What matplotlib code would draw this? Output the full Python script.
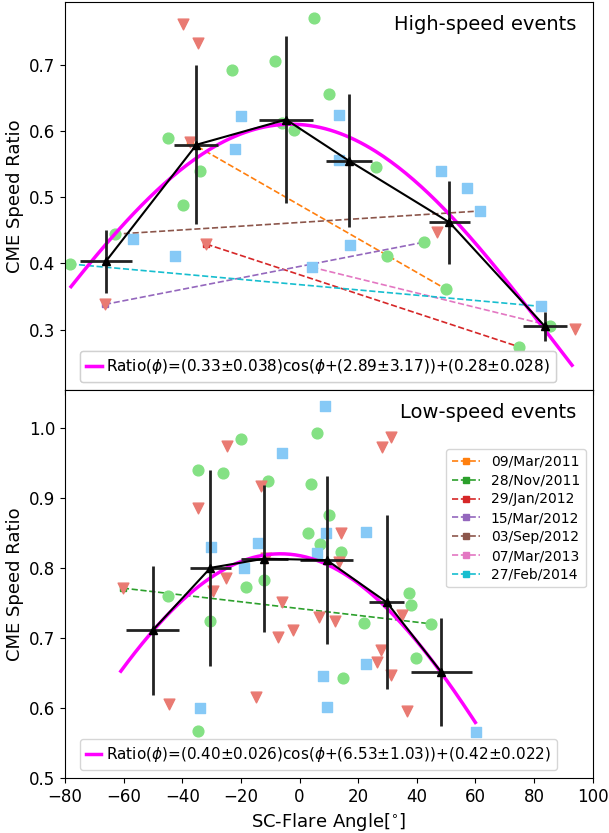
import numpy as np
import matplotlib.pyplot as plt

# ---- high-speed events (top panel) ----
hi_g_x = [-78.3, -63, -45, -39.9, -34.1, -22.9, -8.3, 4.9, -6, -1.9, 10, 26, 29.7, 42.6, 50, 85.4, 74.9]
hi_g_y = [0.399, 0.444, 0.589, 0.488, 0.539, 0.692, 0.706, 0.770, 0.612, 0.601, 0.656, 0.545, 0.411, 0.432, 0.361, 0.306, 0.274]
hi_b_x = [-56.9, -42.6, -22, -19.9, 4.3, 17.1, 13.4, 13.4, 48.4, 57.2, 61.6, 82.4]
hi_b_y = [0.436, 0.411, 0.573, 0.623, 0.394, 0.427, 0.624, 0.556, 0.539, 0.514, 0.479, 0.335]
hi_r_x = [-66.4, -39.9, -34.8, -37.5, -31.8, 47, 93.9]
hi_r_y = [0.338, 0.762, 0.733, 0.583, 0.429, 0.447, 0.301]

hi_bin_x = [-66.1, -35.2, -4.6, 16.8, 51.1, 83.7]
hi_bin_y = [0.403, 0.579, 0.617, 0.555, 0.462, 0.305]
hi_bin_xerr = [8.8, 7.5, 9.2, 7.8, 7.0, 7.6]
hi_bin_yerr = [0.048, 0.12, 0.126, 0.10, 0.063, 0.022]
hi_fit = (0.33, 2.89, 0.28)
hi_fit_range = (-78, 93)
hi_label = r'Ratio($\phi$)=(0.33$\pm$0.038)cos($\phi$+(2.89$\pm$3.17))+(0.28$\pm$0.028)'

# ---- low-speed events (bottom panel) ----
lo_g_x = [-45, -34.8, -26.3, -19.9, -10.7, -18.2, -12, -30.4, -34.8, 5.9, 3.9, 10, 2.9, 6.9, 14.1,
          14.8, 21.9, 37.2, 38.2, 39.9, 45]
lo_g_y = [0.760, 0.940, 0.936, 0.984, 0.924, 0.773, 0.783, 0.724, 0.567, 0.993, 0.920, 0.876, 0.850, 0.834, 0.823,
          0.643, 0.721, 0.764, 0.747, 0.671, 0.720]
lo_b_x = [-34.1, -30.1, -18.9, -14.1, -5.9, 8.7, 9, 6, 22.6, 8, 9.3, 22.6, 60.3]
lo_b_y = [0.600, 0.829, 0.800, 0.836, 0.964, 1.031, 0.849, 0.821, 0.851, 0.645, 0.601, 0.663, 0.566]
lo_r_x = [-60.3, -44.7, -34.5, -24.6, -25, -13.1, -29.4, -11.4, -14.8, -5.9, -7.3, -2.2, 6.6, 12, 14.1,
          13.4, 28, 31.1, 27.7, 26.3, 31.1, 34.8, 36.5]
lo_r_y = [0.771, 0.606, 0.886, 0.974, 0.786, 0.917, 0.767, 0.814, 0.616, 0.751, 0.701, 0.711, 0.730, 0.724, 0.849,
          0.809, 0.973, 0.987, 0.683, 0.666, 0.647, 0.733, 0.596]

lo_bin_x = [-50.1, -30.4, -12.1, 9.3, 29.7, 48.4]
lo_bin_y = [0.711, 0.800, 0.813, 0.811, 0.751, 0.651]
lo_bin_xerr = [9.0, 7.0, 8.0, 9.0, 6.0, 10.3]
lo_bin_yerr = [0.092, 0.14, 0.105, 0.12, 0.124, 0.077]
lo_fit = (0.40, 6.53, 0.42)
lo_fit_range = (-61, 60)
lo_label = r'Ratio($\phi$)=(0.40$\pm$0.026)cos($\phi$+(6.53$\pm$1.03))+(0.42$\pm$0.022)'

# ---- individual events, joined by dashed lines ----
ev_names = ['09/Mar/2011', '28/Nov/2011', '29/Jan/2012', '15/Mar/2012',
            '03/Sep/2012', '07/Mar/2013', '27/Feb/2014']
ev_colors = ['C1', 'C2', 'C3', 'C4', 'C5', 'C6', 'C9']
ev_panel = [0, 1, 0, 0, 0, 0, 0]
ev_x = [(-37.5, 50), (-60.3, 45), (-31.8, 74.9), (-66.4, 42.6), (-63, 61.6), (4.3, 85.4), (-78.3, 82.4)]
ev_y = [(0.583, 0.361), (0.771, 0.720), (0.429, 0.274), (0.338, 0.432), (0.444, 0.479), (0.394, 0.306), (0.399, 0.335)]

green = '#84e184'
blue = '#86c9f6'
red = '#e97a72'

fig, axes = plt.subplots(2, 1, sharex=True, figsize=(6.09, 8.33), dpi=100)
plt.subplots_adjust(left=0.107, right=0.973, bottom=0.066, top=0.998, hspace=0)

for k in range(len(ev_names)):
    ax = axes[ev_panel[k]]
    ax.plot(ev_x[k], ev_y[k], '--', color=ev_colors[k], marker='s', ms=4, lw=1.2, zorder=1)

panels = [
    (axes[0], hi_g_x, hi_g_y, hi_b_x, hi_b_y, hi_r_x, hi_r_y, hi_bin_x, hi_bin_y, hi_bin_xerr, hi_bin_yerr,
     hi_fit, hi_fit_range, hi_label, 'High-speed events'),
    (axes[1], lo_g_x, lo_g_y, lo_b_x, lo_b_y, lo_r_x, lo_r_y, lo_bin_x, lo_bin_y, lo_bin_xerr, lo_bin_yerr,
     lo_fit, lo_fit_range, lo_label, 'Low-speed events'),
]

for ax, gx, gy, bx, by, rx, ry, cx, cy, cxe, cye, fit, frange, lab, title in panels:
    ax.scatter(gx, gy, s=60, marker='o', color=green, zorder=2)
    ax.scatter(bx, by, s=60, marker='s', color=blue, zorder=2)
    ax.scatter(rx, ry, s=60, marker='v', color=red, zorder=2)
    ax.errorbar(cx, cy, xerr=cxe, yerr=cye, fmt='-^', color='k', ecolor='#222222',
                elinewidth=2, lw=1.5, ms=6, zorder=4)
    phi = np.linspace(frange[0], frange[1], 200)
    fit_line, = ax.plot(phi, fit[0] * np.cos(np.radians(phi + fit[1])) + fit[2],
                        color='magenta', lw=2.5, zorder=3)
    leg = ax.legend([fit_line], [lab], loc='lower center', bbox_to_anchor=(0.48, 0.0),
                    fontsize=11, handlelength=1.0, handletextpad=0.3, borderpad=0.4)
    ax.add_artist(leg)
    ax.text(0.97, 0.965, title, transform=ax.transAxes, ha='right', va='top', fontsize=14)
    ax.set_ylabel('CME Speed Ratio', fontsize=13)
    ax.tick_params(labelsize=12)

# legend of individual events
handles = [plt.Line2D([], [], ls='--', color=c, marker='s', ms=4, lw=1.2) for c in ev_colors]
axes[1].legend(handles, ev_names, loc='upper right', bbox_to_anchor=(1.0, 0.865), fontsize=10,
               handlelength=2.0, labelspacing=0.35)

axes[0].set_ylim(0.209, 0.795)
axes[0].set_yticks([0.3, 0.4, 0.5, 0.6, 0.7])
axes[1].set_ylim(0.5, 1.054)
axes[1].set_yticks([0.5, 0.6, 0.7, 0.8, 0.9, 1.0])
axes[1].set_xlim(-80, 100)
axes[1].set_xticks(np.arange(-80, 101, 20))
axes[1].set_xlabel(r'SC-Flare Angle[$^{\circ}$]', fontsize=13)

plt.savefig('out.png', dpi=100)
